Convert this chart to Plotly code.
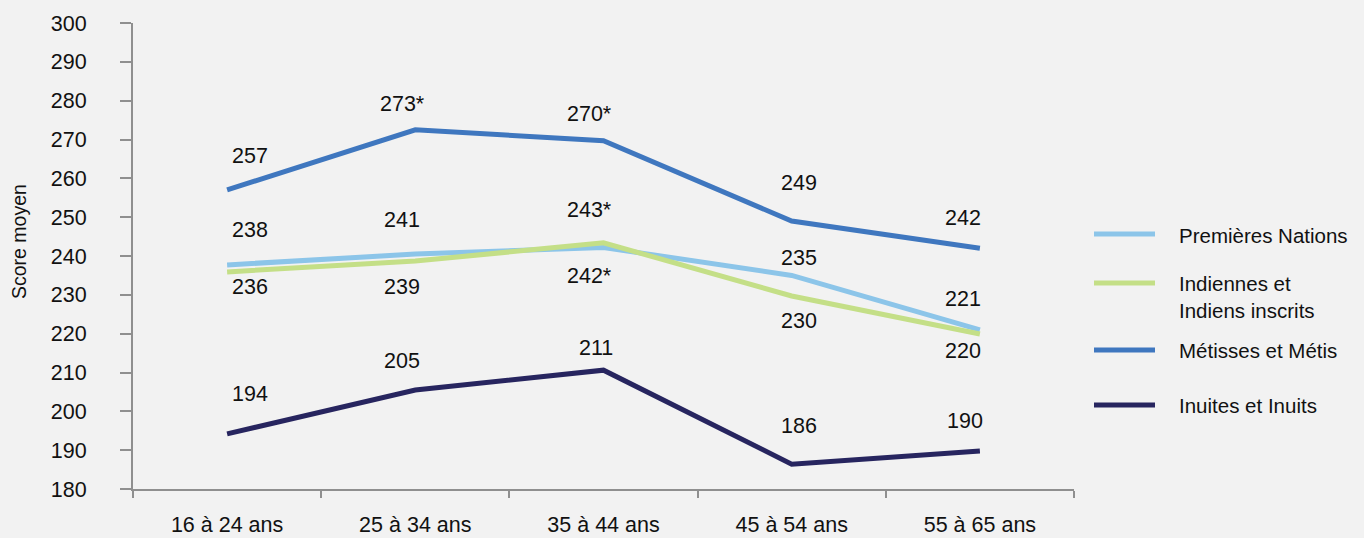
import plotly.graph_objects as go

# ---- data ----
categories = ["16 à 24 ans", "25 à 34 ans", "35 à 44 ans", "45 à 54 ans", "55 à 65 ans"]
series_names = ["Premières Nations", "Indiennes et Indiens inscrits", "Métisses et Métis", "Inuites et Inuits"]
premieres_nations = [237.7, 240.5, 242.2, 235.0, 221.0]
indiens_inscrits = [235.9, 238.7, 243.4, 229.7, 219.9]
metis = [257.0, 272.5, 269.7, 249.0, 242.0]
inuits = [194.2, 205.5, 210.6, 186.4, 189.8]
labels_pn = ["238", "241", "242*", "235", "221"]
labels_ii = ["236", "239", "243*", "230", "220"]
labels_metis = ["257", "273*", "270*", "249", "242"]
labels_inuits = ["194", "205", "211", "186", "190"]
y_ticks = list(range(180, 301, 10))

# ---- style ----
colors = ["#8cc5e9", "#c4df87", "#3f77bf", "#27255f"]
FONT = "Liberation Sans, Arial, sans-serif"
FS = 21.5
TXT = "#111111"
BG = "#f2f2f2"
W, H = 1364, 538
L, R, T, B = 133, 1074, 23, 489

# label offsets (pixels): vertical (up positive) and per-column horizontal
yshift_pn = [35, 34, -29, 17, 31]
yshift_ii = [-15, -26, 33, -25, -17]
yshift_metis = [34, 26, 27, 38, 30]
yshift_inuits = [40, 29, 22, 38, 30]
xshift_col = [23, -13, -14, 7, -17]
xshift_inuits = [23, -13, -8, 7, -15]

def px2x(px):
    return (px - L) / (R - L)

def px2y(py):
    return (B - py) / (B - T)

all_values = [premieres_nations, indiens_inscrits, metis, inuits]
all_labels = [labels_pn, labels_ii, labels_metis, labels_inuits]
all_yshift = [yshift_pn, yshift_ii, yshift_metis, yshift_inuits]
all_xshift = [xshift_col, xshift_col, xshift_col, xshift_inuits]

fig = go.Figure()
# draw order: metis, pn, ii, inuits (green on top of light blue)
for i in [2, 0, 1, 3]:
    fig.add_trace(go.Scatter(
        x=categories, y=all_values[i], mode="lines", name=series_names[i],
        line=dict(color=colors[i], width=5), showlegend=False,
        hoverinfo="x+y+name",
    ))

annotations = []
for vals, labs, ys, xs in zip(all_values, all_labels, all_yshift, all_xshift):
    for c, v, t, dy, dx in zip(categories, vals, labs, ys, xs):
        annotations.append(dict(
            x=c, y=v, xref="x", yref="y", text=t, showarrow=False,
            xshift=dx, yshift=dy, xanchor="center", yanchor="middle",
            font=dict(family=FONT, size=FS, color=TXT),
        ))

# manual legend
legend_text = ["Premières Nations", "Indiennes et<br>Indiens inscrits", "Métisses et Métis", "Inuites et Inuits"]
legend_line_y = [234, 283, 350, 405]
legend_text_y = [235, 297, 350, 405]
shapes = []
for col, ly, ty, txt in zip(colors, legend_line_y, legend_text_y, legend_text):
    shapes.append(dict(
        type="line", xref="paper", yref="paper",
        x0=px2x(1094), x1=px2x(1155), y0=px2y(ly), y1=px2y(ly),
        line=dict(color=col, width=5),
    ))
    annotations.append(dict(
        x=px2x(1177), y=px2y(ty), xref="paper", yref="paper", text=txt,
        showarrow=False, xanchor="left", yanchor="middle", align="left",
        font=dict(family=FONT, size=20.5, color=TXT),
    ))

# y axis title
annotations.append(dict(
    x=px2x(19), y=px2y(242), xref="paper", yref="paper", text="Score moyen",
    showarrow=False, textangle=-90, xanchor="center", yanchor="middle",
    font=dict(family=FONT, size=19.5, color=TXT),
))

AX = "#8f8f8f"
fig.update_layout(
    width=W, height=H,
    margin=dict(l=L, r=W - R, t=T, b=H - B, pad=0, autoexpand=False),
    paper_bgcolor=BG, plot_bgcolor=BG,
    showlegend=False,
    annotations=annotations, shapes=shapes,
    xaxis=dict(
        type="category", range=[-0.5, 4.5], showgrid=False, zeroline=False,
        showline=True, linecolor=AX, linewidth=2, automargin=False,
        ticks="outside", tickson="boundaries", ticklen=7, tickwidth=2, tickcolor=AX,
        tickfont=dict(family=FONT, size=FS, color=TXT), ticklabelstandoff=15,
    ),
    yaxis=dict(
        range=[180, 300], tickvals=y_ticks, showgrid=False, zeroline=False,
        showline=True, linecolor=AX, linewidth=2, automargin=False,
        ticks="outside", ticklen=11, tickwidth=2, tickcolor=AX,
        tickfont=dict(family=FONT, size=FS, color=TXT), ticklabelstandoff=29,
    ),
)

fig.write_html(
    "out.html",
    config={"displayModeBar": False},
    post_script="document.body.style.margin='0';document.body.style.background='#f2f2f2';document.body.style.overflow='hidden';",
)
